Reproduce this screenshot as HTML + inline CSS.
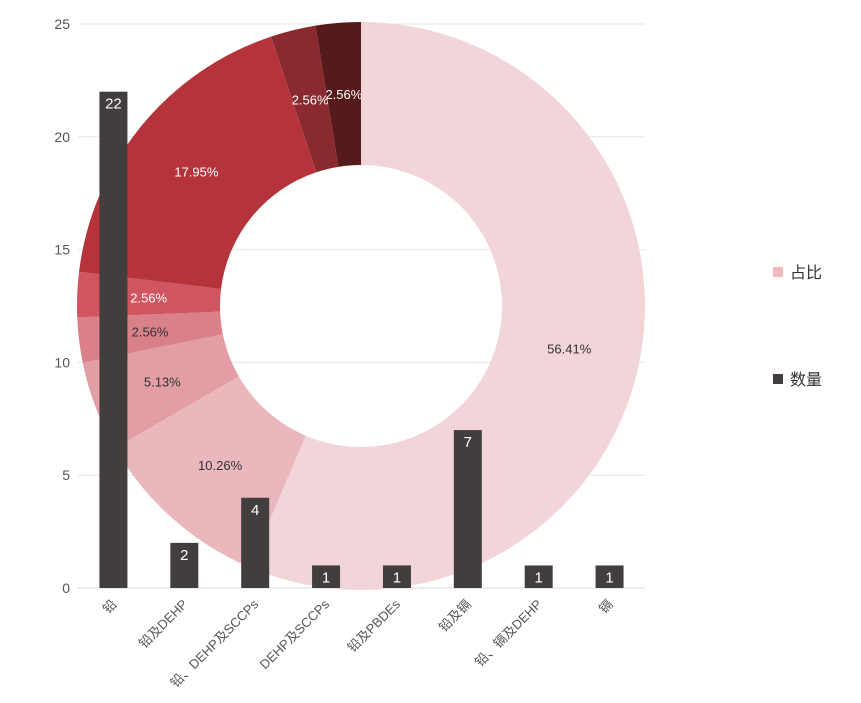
<!DOCTYPE html>
<html><head><meta charset="utf-8"><style>
body{margin:0;background:#fff;font-family:"Liberation Sans","Noto Sans CJK SC",sans-serif}
</style></head><body>
<svg id="c" width="861" height="698" xmlns="http://www.w3.org/2000/svg"></svg>
<script>
const categories=["铅","铅及DEHP","铅、DEHP及SCCPs","DEHP及SCCPs","铅及PBDEs","铅及镉","铅、镉及DEHP","镉"];
const counts=[22,2,4,1,1,7,1,1];
const pieOrder=[0,2,1,3,4,5,6,7];
const pctLabels=["56.41%","5.13%","10.26%","2.56%","2.56%","17.95%","2.56%","2.56%"];
const yTicks=[0,5,10,15,20,25];
const sliceColors=["#f2d5d8","#eab7bc","#e29ea4","#da8089","#cf5561","#b5343c","#8a2a2e","#561a1c"];
const labelColors=["#333","#333","#333","#333","#fff","#fff","#fff","#fff"];
const NS="http://www.w3.org/2000/svg",svg=document.getElementById('c');
function mk(t,a,p){const e=document.createElementNS(NS,t);for(const k in a)e.setAttribute(k,a[k]);(p||svg).appendChild(e);return e;}
const x0=78,x1=645,yB=588,yT=24,ymax=25;
const y=v=>yB-(yB-yT)*v/ymax;
const step=(x1-x0)/categories.length;
const xc=i=>x0+step*(i+0.5);
// grid
yTicks.forEach(t=>{
 const l=mk('line',{x1:x0,x2:x1,y1:y(t),y2:y(t),stroke:t?'#e6e6e6':'#d9d9d9'});
 
 const tx=mk('text',{x:70,y:y(t)+5,'text-anchor':'end','font-size':14,fill:'#555'});tx.textContent=t;
 
});
// donut
const cx=361,cy=306,R=284,r=141;
const vals=categories.map((c,i)=>counts[i]);
// pie slices in original order of categories sorted as in picture: use counts by order
const pieVals=[counts[0],counts[2],counts[1],counts[3],counts[4],counts[5],counts[6],counts[7]];
const tot=pieVals.reduce((a,b)=>a+b,0);
let a0=0;
pieVals.forEach((v,i)=>{
 const a1=a0+v/tot*2*Math.PI;
 const P=(rr,a)=>[cx+rr*Math.sin(a),cy-rr*Math.cos(a)];
 const [ax,ay]=P(R,a0),[bx,by]=P(R,a1),[cx2,cy2]=P(r,a1),[dx,dy]=P(r,a0);
 const lg=(a1-a0)>Math.PI?1:0;
 const p=mk('path',{d:`M${ax},${ay}A${R},${R} 0 ${lg} 1 ${bx},${by}L${cx2},${cy2}A${r},${r} 0 ${lg} 0 ${dx},${dy}Z`,fill:sliceColors[i]});
 
 const am=(a0+a1)/2,[lx,ly]=P((R+r)/2,am);
 const t=mk('text',{x:lx,y:ly+5,'text-anchor':'middle','font-size':13,fill:labelColors[i]});
 t.textContent=(v/tot*100).toFixed(2)+'%';
 
 a0=a1;
});
// bars
const bw=28;
counts.forEach((v,i)=>{
 const b=mk('rect',{x:xc(i)-bw/2,y:y(v),width:bw,height:yB-y(v),fill:'#423e3d'});
 
 const t=mk('text',{x:xc(i),y:y(v)+17,'text-anchor':'middle','font-size':15,fill:'#fff'});t.textContent=v;
 
 const cl=mk('text',{x:xc(i)+4,y:605,'text-anchor':'end','font-size':13,fill:'#555',transform:`rotate(-45 ${xc(i)+4} 605)`});
 cl.textContent=categories[i];
 
});
// legend
[["占比","#f2b8bd",273],["数量","#423e3d",380]].forEach(([n,c,yy])=>{
 const g=mk('g',{});
 mk('rect',{x:773,y:yy-6,width:10,height:10,fill:c},g);
 const t=mk('text',{x:790,y:yy+5,'font-size':16,fill:'#333'},g);t.textContent=n;
});
</script>
</body></html>
